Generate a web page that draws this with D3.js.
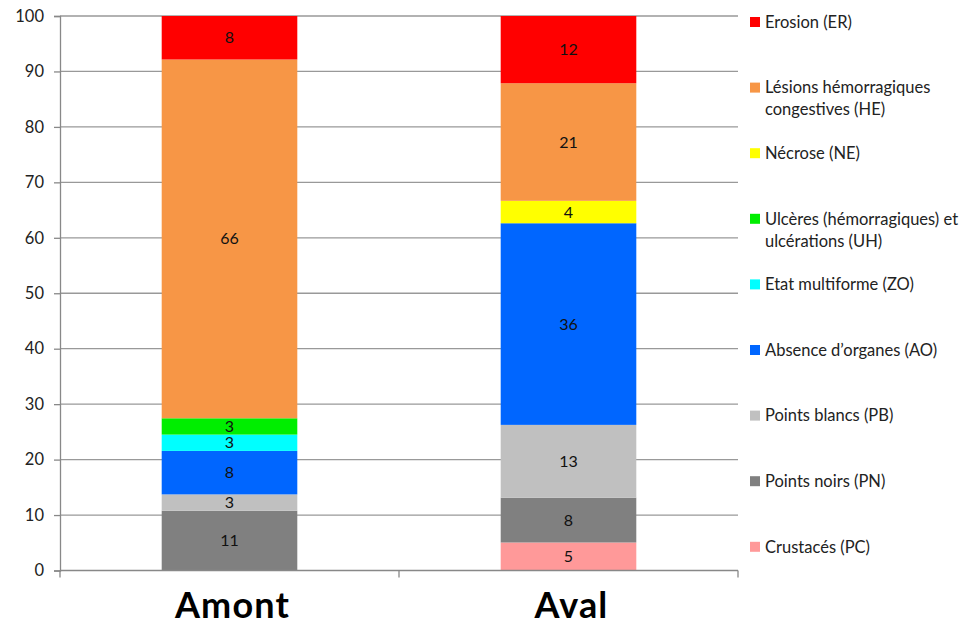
<!DOCTYPE html>
<html>
<head>
<meta charset="utf-8">
<script src="https://cdn.jsdelivr.net/npm/d3@7"></script>
<style>
  html, body { margin: 0; padding: 0; background: #fff; }
  svg { display: block; font-family: Lato, "Open Sans", sans-serif; }
</style>
</head>
<body>
<svg id="chart" width="980" height="627"></svg>
<script>
// Sites (x categories)
const sites = ["Amont", "Aval"];

// Lesion types, stacked bottom to top
const lesionKeys = ["PC", "PN", "PB", "AO", "ZO", "UH", "NE", "HE", "ER"];
const lesionNames = {
  ER: ["Erosion (ER)"],
  HE: ["Lésions hémorragiques", "congestives (HE)"],
  NE: ["Nécrose (NE)"],
  UH: ["Ulcères (hémorragiques) et", "ulcérations (UH)"],
  ZO: ["Etat multiforme (ZO)"],
  AO: ["Absence d’organes (AO)"],
  PB: ["Points blancs (PB)"],
  PN: ["Points noirs (PN)"],
  PC: ["Crustacés (PC)"]
};
const lesionColors = {
  ER: "#ff0000", HE: "#f79646", NE: "#ffff00", UH: "#00ee00", ZO: "#00ffff",
  AO: "#0066ff", PB: "#c0c0c0", PN: "#808080", PC: "#ff9999"
};

// Percentages per lesion type (order follows lesionKeys)
const amontValues = [0, 11, 3, 8, 3, 3, 0, 66, 8];
const avalValues  = [5, 8, 13, 36, 0, 0, 4, 21, 12];

// Y axis ticks
const yTicks = [0, 10, 20, 30, 40, 50, 60, 70, 80, 90, 100];

// Legend order (top to bottom)
const legendOrder = ["ER", "HE", "NE", "UH", "ZO", "AO", "PB", "PN", "PC"];

const rows = sites.map((s, i) => {
  const vals = i === 0 ? amontValues : avalValues;
  const r = { site: s };
  lesionKeys.forEach((k, j) => r[k] = vals[j]);
  return r;
});

const svg = d3.select("#chart");
const margin = { left: 60, right: 242, top: 16, bottom: 56.5 };
const W = 980, H = 627;
const x0 = margin.left, x1 = W - margin.right;
const y0 = H - margin.bottom, y1 = margin.top;

const x = d3.scaleBand().domain(sites).range([x0, x1]).paddingInner(0.6).paddingOuter(0.3);
const y = d3.scaleLinear().domain([0, 100]).range([y0, y1]);

// 100% stacked: each column normalised to its total
const series = d3.stack().keys(lesionKeys).offset(d3.stackOffsetExpand)(rows);

// gridlines
svg.append("g")
  .selectAll("line")
  .data(yTicks.filter(t => t > 0))
  .join("line")
  .attr("x1", x0).attr("x2", x1)
  .attr("y1", d => y(d)).attr("y2", d => y(d))
  .attr("stroke", "#999").attr("stroke-width", 1.3);

// bars
const layer = svg.append("g");
series.forEach(s => {
  s.forEach((seg, i) => {
    const v = rows[i][s.key];
    if (!v) return;
    const top = y(seg[1] * 100), bot = y(seg[0] * 100);
    layer.append("rect")
      .attr("x", x(rows[i].site))
      .attr("width", x.bandwidth())
      .attr("y", top)
      .attr("height", bot - top)
      .attr("fill", lesionColors[s.key]);
  });
});

// value labels
series.forEach(s => {
  s.forEach((seg, i) => {
    const v = rows[i][s.key];
    if (!v) return;
    const mid = y((seg[0] + seg[1]) * 50);
    layer.append("text")
      .attr("x", x(rows[i].site) + x.bandwidth() / 2)
      .attr("y", mid)
      .attr("dy", "0.35em")
      .attr("text-anchor", "middle")
      .attr("font-size", 16)
      .attr("fill", "#111")
      .text(v);
  });
});

// y axis
const yAxis = svg.append("g")
  .attr("transform", `translate(${x0},0)`)
  .call(d3.axisLeft(y).tickValues(yTicks).tickSize(6).tickPadding(10));
yAxis.select(".domain").attr("stroke", "#888").attr("stroke-width", 1.3);
yAxis.selectAll(".tick line").attr("stroke", "#888").attr("stroke-width", 1.3);
yAxis.selectAll(".tick text").attr("font-size", 16.5).attr("fill", "#222")
  .attr("font-family", "Lato, sans-serif");

// x axis baseline with boundary ticks
svg.append("line")
  .attr("x1", x0).attr("x2", x1).attr("y1", y0).attr("y2", y0)
  .attr("stroke", "#888").attr("stroke-width", 1.3);
const boundaries = [x0, (x(sites[0]) + x.bandwidth() + x(sites[1])) / 2, x1];
svg.append("g").selectAll("line").data(boundaries).join("line")
  .attr("x1", d => d).attr("x2", d => d)
  .attr("y1", y0).attr("y2", y0 + 7)
  .attr("stroke", "#888").attr("stroke-width", 1.3);

// category labels
svg.append("g").selectAll("text").data(sites).join("text")
  .attr("x", d => x(d) + x.bandwidth() / 2 + 3)
  .attr("y", 618)
  .attr("text-anchor", "middle")
  .attr("font-size", 36)
  .attr("font-weight", "bold")
  .attr("letter-spacing", 1.2)
  .attr("fill", "#000")
  .text(d => d);

// legend
const legend = svg.append("g");
legendOrder.forEach((k, i) => {
  const cy = 22 + i * 65.6;
  legend.append("rect")
    .attr("x", 750).attr("y", cy - 5)
    .attr("width", 10).attr("height", 10)
    .attr("fill", lesionColors[k]);
  lesionNames[k].forEach((line, j) => {
    legend.append("text")
      .attr("x", 765).attr("y", cy + j * 22)
      .attr("dy", "0.35em")
      .attr("font-size", 16.5)
      .attr("fill", "#222")
      .text(line);
  });
});
</script>
</body>
</html>
